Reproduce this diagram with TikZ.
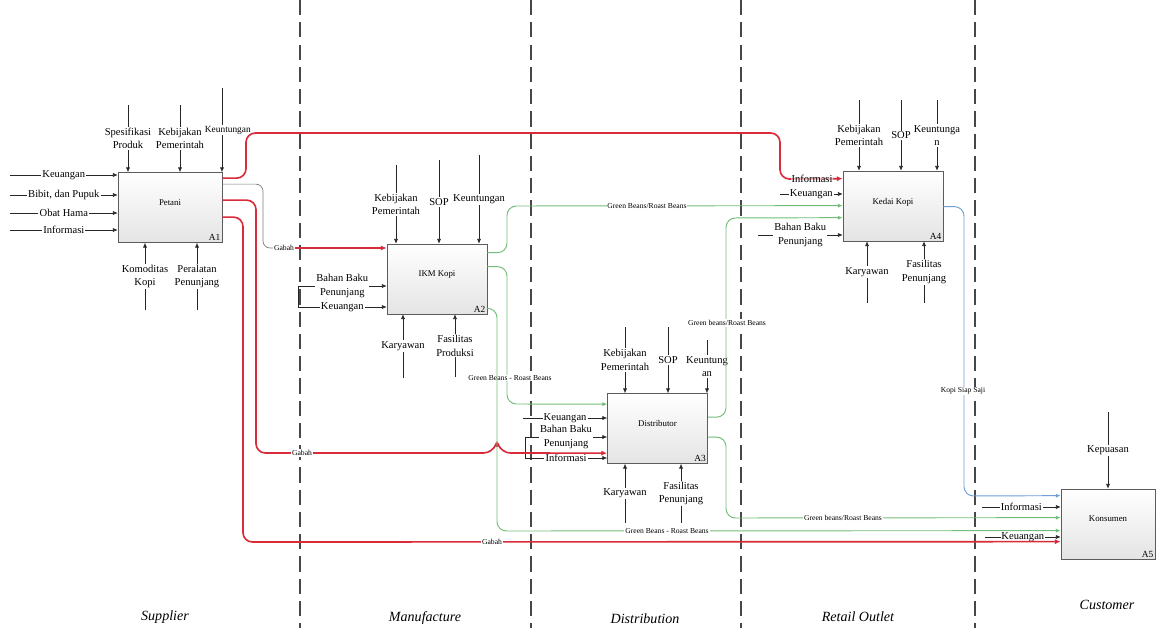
\documentclass[tikz,border=0pt]{standalone}
\usepackage{fontspec}
\setmainfont{Liberation Serif}
\usepackage{tikz}
\usetikzlibrary{arrows.meta,positioning,calc}
\definecolor{ink}{HTML}{262626}
\definecolor{crimson}{HTML}{D92B3A}
\definecolor{leaf}{HTML}{72BE76}
\definecolor{sky}{HTML}{6F9FD4}
\definecolor{lightgray}{HTML}{E4E4E4}

\begin{document}
\begin{tikzpicture}[
  x=0.3mm,y=-0.3mm,
  box/.style={draw=ink!75,line width=0.6pt,top color=white,bottom color=lightgray,
    minimum width=30mm,minimum height=21mm,text depth=3mm,font=\fontsize{7.5}{9}\selectfont},
  num/.style={font=\fontsize{8}{9}\selectfont,inner sep=1.5pt},
  lbl/.style={fill=white,inner sep=1pt,align=center,font=\fontsize{9}{11.5}\selectfont},
  flowlbl/.style={fill=white,inner sep=0.8pt,font=\fontsize{6.5}{7}\selectfont},
  lane/.style={draw=ink!85,line width=0.9pt,dash pattern=on 13pt off 6pt},
  lanelbl/.style={font=\fontsize{12}{14}\selectfont\itshape},
  arr/.style={-{Latex[length=4pt,width=3.5pt]},draw=ink,line width=0.5pt},
  redflow/.style={-{Latex[length=5pt,width=4.5pt]},draw=crimson,line width=1.4pt,rounded corners=8pt},
  greenflow/.style={-{Latex[length=4pt,width=3.5pt]},draw=leaf,line width=0.8pt,rounded corners=8pt},
  blueflow/.style={greenflow,draw=sky}
]
\path[use as bounding box,fill=white] (0,0) rectangle (1156,628);
\clip (0,0) rectangle (1156,628);

% swim lanes
\draw[lane] (300,0) -- (300,628);
\draw[lane] (531,0) -- (531,628);
\draw[lane] (741,0) -- (741,628);
\draw[lane] (975,0) -- (975,628);
\node[lanelbl] (supplier) at (165,617) {Supplier};
\node[lanelbl] (manufacture) at (425,618) {Manufacture};
\node[lanelbl] (distribution) at (645,619) {Distribution};
\node[lanelbl] (retail) at (858,617) {Retail Outlet};
\node[lanelbl] (customer) at (1107,605) {Customer};

% activities
\node[box,minimum width=31.2mm] (pet) at (170,207.5) {Petani};
\node[box] (ikm) at (437,279) {IKM Kopi};
\node[box] (dis) at (657.5,428.5) {Distributor};
\node[box] (ked) at (893,206) {Kedai Kopi};
\node[box,minimum width=28.2mm] (kon) at (1108,524) {Konsumen};
\node[num,above left=0pt of pet.south east] (petNum) {A1};
\node[num,above left=0pt of ikm.south east] (ikmNum) {A2};
\node[num,above left=0pt of dis.south east] (disNum) {A3};
\node[num,above left=0pt of ked.south east] (kedNum) {A4};
\node[num,above left=0pt of kon.south east] (konNum) {A5};

% Petani
\coordinate (petIn1) at (10,175);
\coordinate (petIn2) at (10,195);
\coordinate (petIn3) at (10,213);
\coordinate (petIn4) at (10,230);
\draw[arr] (petIn1) -- node[lbl]{Keuangan} (petIn1 -| pet.west);
\draw[arr] (petIn2) -- node[lbl]{Bibit, dan Pupuk} (petIn2 -| pet.west);
\draw[arr] (petIn3) -- node[lbl]{Obat Hama} (petIn3 -| pet.west);
\draw[arr] (petIn4) -- node[lbl]{Informasi} (petIn4 -| pet.west);
\coordinate (petCt1) at (128,105);
\coordinate (petCt2) at (180,105);
\coordinate (petCt3) at (222,88);
\draw[arr] (petCt1) -- node[lbl]{Spesifikasi\\Produk} (petCt1 |- pet.north);
\draw[arr] (petCt2) -- node[lbl]{Kebijakan\\Pemerintah} (petCt2 |- pet.north);
\draw[arr] (petCt3) -- node[lbl,pos=0.5,xshift=5pt,font=\fontsize{8}{10}\selectfont]{Keuntungan} (petCt3 |- pet.north);
\coordinate (petMe1) at (145,310);
\coordinate (petMe2) at (197,310);
\draw[arr] (petMe1) -- node[lbl]{Komoditas\\Kopi} (petMe1 |- pet.south);
\draw[arr] (petMe2) -- node[lbl]{Peralatan\\Penunjang} (petMe2 |- pet.south);

% IKM Kopi
\coordinate (ikmCt1) at (396,165);
\coordinate (ikmCt2) at (439,160);
\coordinate (ikmCt3) at (479,155);
\draw[arr] (ikmCt1) -- node[lbl]{Kebijakan\\Pemerintah} (ikmCt1 |- ikm.north);
\draw[arr] (ikmCt2) -- node[lbl]{SOP} (ikmCt2 |- ikm.north);
\draw[arr] (ikmCt3) -- node[lbl]{Keuntungan} (ikmCt3 |- ikm.north);
\coordinate (ikmIn1) at (298,286);
\coordinate (ikmIn2) at (298,307);
\draw[ink,line width=0.5pt] (ikmIn1) -- (ikmIn2);
\draw[arr] (ikmIn1) -- node[lbl]{Bahan Baku\\Penunjang} (ikmIn1 -| ikm.west);
\draw[arr] (ikmIn2) -- node[lbl]{Keuangan} (ikmIn2 -| ikm.west);
\coordinate (ikmMe1) at (403,378);
\coordinate (ikmMe2) at (455,377);
\draw[arr] (ikmMe1) -- node[lbl]{Karyawan} (ikmMe1 |- ikm.south);
\draw[arr] (ikmMe2) -- node[lbl]{Fasilitas\\Produksi} (ikmMe2 |- ikm.south);

% Distributor
\coordinate (disCt1) at (625,327);
\coordinate (disCt2) at (668,327);
\coordinate (disCt3) at (707,340);
\draw[arr] (disCt1) -- node[lbl]{Kebijakan\\Pemerintah} (disCt1 |- dis.north);
\draw[arr] (disCt2) -- node[lbl]{SOP} (disCt2 |- dis.north);
\draw[arr] (disCt3) -- node[lbl]{Keuntung\\an} (disCt3 |- dis.north);
\coordinate (disIn1) at (523,418);
\coordinate (disIn2) at (525,437);
\coordinate (disIn3) at (525,458);
\draw[ink,line width=0.5pt] (disIn2) -- (disIn3);
\draw[arr] (disIn1) -- node[lbl]{Keuangan} (disIn1 -| dis.west);
\draw[arr] (disIn2) -- node[lbl]{Bahan Baku\\Penunjang} (disIn2 -| dis.west);
\draw[arr] (disIn3) -- node[lbl]{Informasi} (disIn3 -| dis.west);
\coordinate (disMe1) at (625,523);
\coordinate (disMe2) at (681,523);
\draw[arr] (disMe1) -- node[lbl]{Karyawan} (disMe1 |- dis.south);
\draw[arr] (disMe2) -- node[lbl]{Fasilitas\\Penunjang} (disMe2 |- dis.south);

% Kedai Kopi
\coordinate (kedCt1) at (859,100);
\coordinate (kedCt2) at (901,100);
\coordinate (kedCt3) at (937,100);
\draw[arr] (kedCt1) -- node[lbl]{Kebijakan\\Pemerintah} (kedCt1 |- ked.north);
\draw[arr] (kedCt2) -- node[lbl]{SOP} (kedCt2 |- ked.north);
\draw[arr] (kedCt3) -- node[lbl]{Keuntunga\\n} (kedCt3 |- ked.north);
\coordinate (kedIn1) at (780,194);
\coordinate (kedIn2) at (758,235);
\draw[arr] (kedIn1) -- node[lbl]{Keuangan} (kedIn1 -| ked.west);
\draw[arr] (kedIn2) -- node[lbl]{Bahan Baku\\Penunjang} (kedIn2 -| ked.west);
\coordinate (kedMe1) at (867,303);
\coordinate (kedMe2) at (924,303);
\draw[arr] (kedMe1) -- node[lbl]{Karyawan} (kedMe1 |- ked.south);
\draw[arr] (kedMe2) -- node[lbl]{Fasilitas\\Penunjang} (kedMe2 |- ked.south);

% Konsumen
\coordinate (konCt1) at (1108,412);
\draw[arr] (konCt1) -- node[lbl]{Kepuasan} (konCt1 |- kon.north);
\coordinate (konIn1) at (982,507);
\coordinate (konIn2) at (985,537);
\draw[arr] (konIn1) -- node[lbl]{Informasi} (konIn1 -| kon.west);
\draw[arr] (konIn2) -- node[lbl,inner sep=0.5pt]{Keuangan} (konIn2 -| kon.west);

% gabah (red)
\draw[redflow] ($(pet.north east)+(0,6)$) -| (246,133) -| (780,179) -- ($(ked.north west)+(0,8)$);
\node[lbl,fill opacity=0.6,text opacity=1,inner sep=0.5pt] (kedInf) at (812,179) {Informasi};
\node[flowlbl] (gabah1) at (284,248) {Gabah};
\draw[ink!60,line width=0.6pt,rounded corners=6pt] ($(pet.north east)+(0,12)$) -| (263,248) -- (gabah1.west);
\draw[redflow] (gabah1.east) -- (gabah1.east -| ikm.west);
\draw[redflow] ($(pet.north east)+(0,28)$) -| (256,453) -- (493,453)
  .. controls (495,447) and (499,447) .. (501,453) -- ($(dis.north west)+(0,60)$);
\node[flowlbl] (gabah2) at (302,453) {Gabah};
\draw[redflow] ($(pet.north east)+(0,45)$) -| (243,542) -- ($(kon.north west)+(0,53)$);
\node[flowlbl] (gabah3) at (492,542) {Gabah};

% beans (green)
\draw[greenflow] ($(ikm.north east)+(0,9)$) -| (507,206) -- ($(ked.north west)+(0,35)$);
\node[flowlbl] (bean1) at (647,206) {Green Beans/Roast Beans};
\draw[greenflow] ($(ikm.north east)+(0,23)$) -| (507,404) -- ($(dis.north west)+(0,11)$);
\node[flowlbl] (bean2) at (510,378) {Green Beans - Roast Beans};
\draw[greenflow] ($(ikm.south east)+(0,-6)$) -| (497,531) -- ($(kon.north west)+(0,42)$);
\node[flowlbl] (bean3) at (667,531) {Green Beans - Roast Beans};
\draw[greenflow] ($(dis.north east)+(0,24)$) -| (726,218) -- ($(ked.north west)+(0,47)$);
\node[flowlbl] (bean4) at (727,323) {Green beans/Roast Beans};
\draw[greenflow] ($(dis.north east)+(0,44)$) -| (726,518) -- ($(kon.north west)+(0,29)$);
\node[flowlbl] (bean5) at (843,518) {Green beans/Roast Beans};

% coffee (blue)
\draw[blueflow] ($(ked.north east)+(0,36)$) -| (964,496) -- ($(kon.north west)+(0,7)$);
\node[flowlbl] (kopi) at (963,391) {Kopi Siap Saji};
\end{tikzpicture}
\end{document}
